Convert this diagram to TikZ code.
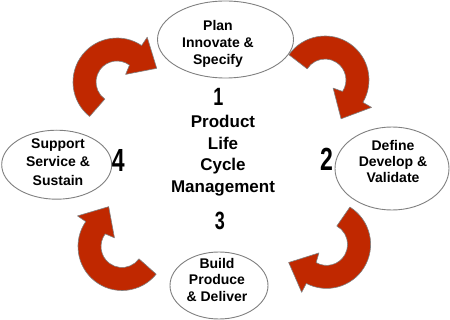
\documentclass[tikz,border=0pt]{standalone}
\usepackage{fontspec}
\setmainfont{Liberation Sans}
\newfontfamily\narrowfont[FakeStretch=0.72]{Liberation Sans}
\usetikzlibrary{shapes.geometric}
\definecolor{arrowred}{RGB}{192,40,0}
\definecolor{rimgray}{RGB}{128,128,128}
\begin{document}
\begin{tikzpicture}[x=1pt,y=1pt,
  bubble/.style={ellipse, draw=rimgray, line width=0.9pt, fill=white, inner sep=0pt},
  btext/.style={align=center, inner sep=0pt, font=\fontsize{14}{17}\selectfont\bfseries},
  ctext/.style={align=center, inner sep=0pt, font=\fontsize{17}{21.5}\selectfont\bfseries},
  numtext/.style={inner sep=0pt, font=\narrowfont\bfseries\fontsize{#1}{#1}\selectfont},
  curlarrow/.style={fill=arrowred, draw=rimgray, line width=0.6pt, line join=round},
  curlarrowpic/.pic={
    \draw[curlarrow] (178:44) arc[start angle=178, end angle=2.5, radius=44]
      -- (2.5:54) -- (-34.5:42) -- (-12:11.5) -- (0:21)
      arc[start angle=0, end angle=181, radius=21] -- cycle;
  }]
\fill[white] (0,0) rectangle (450,319);
\useasboundingbox (0,0) rectangle (450,319);

% curved arrows
\pic[rotate=53.5] (arrowA) at (117,237) {curlarrowpic};
\pic[rotate=-33] (arrowB) at (325,239) {curlarrowpic};
\pic[rotate=-120] (arrowC) at (326.6,74.6) {curlarrowpic};
\pic[rotate=143] (arrowD) at (122,72.5) {curlarrowpic};

% ellipses
\node[bubble, minimum width=136pt, minimum height=77pt] (plan) at (225.5,279.5) {};
\node[bubble, minimum width=114pt, minimum height=83pt] (define) at (392,150.5) {};
\node[bubble, minimum width=98pt, minimum height=67pt] (build) at (219,33.5) {};
\node[bubble, minimum width=110pt, minimum height=69pt] (support) at (56.7,154.3) {};

% ellipse texts
\node[btext] (plantext) at (218,275.5) {Plan\\Innovate \&\\Specify};
\node[btext, font=\fontsize{14}{16}\selectfont\bfseries] (definetext) at (393,158) {Define\\Develop \&\\Validate};
\node[btext, font=\fontsize{14}{16.5}\selectfont\bfseries] (buildtext) at (217,39.5) {Build\\Produce\\\& Deliver};
\node[btext, font=\fontsize{14}{18.5}\selectfont\bfseries] (supporttext) at (58,157) {Support\\Service \&\\Sustain};

% numbers
\node[numtext=25] (n1) at (218.5,222.5) {1};
\node[numtext=32] (n2) at (326.5,160) {2};
\node[numtext=25] (n3) at (220,98.5) {3};
\node[numtext=32] (n4) at (118.3,159) {4};

% centre title
\node[ctext] (title) at (223,163.4) {Product\\Life\\Cycle\\Management};
\end{tikzpicture}
\end{document}
